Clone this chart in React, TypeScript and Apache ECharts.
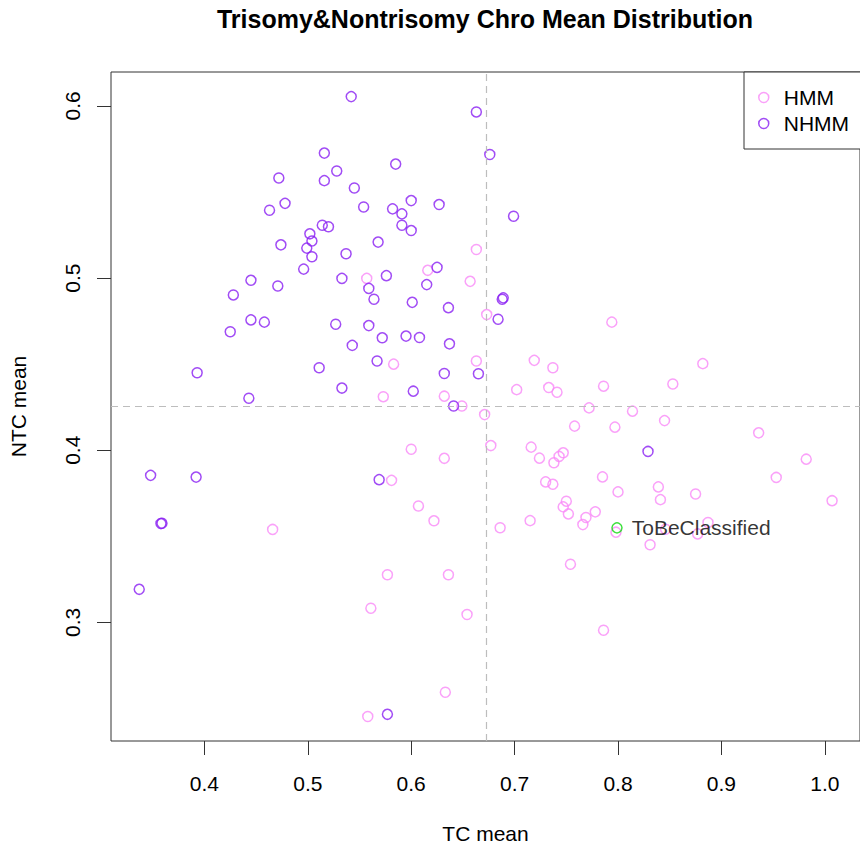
import React, { useEffect, useRef } from "react";
import * as echarts from "echarts";

// ---- data ----
const hmmTC = [
  0.557, 0.663, 0.616, 0.657, 0.583, 0.573, 0.581, 0.466, 0.673, 0.794,
  0.663, 0.719, 0.737, 0.632, 0.649, 0.702, 0.733, 0.741, 0.786, 0.853,
  0.772, 0.814, 0.671, 0.758, 0.797, 0.845, 0.600, 0.632, 0.677, 0.716,
  0.724, 0.738, 0.743, 0.747, 0.730, 0.737, 0.785, 0.800, 0.839, 0.841,
  0.607, 0.622, 0.750, 0.747, 0.752, 0.778, 0.769, 0.766, 0.686, 0.715,
  0.798, 0.831, 0.846, 0.754, 0.577, 0.636, 0.654, 0.786, 0.633, 0.561,
  0.558, 0.882, 0.936, 0.982, 0.953, 0.875, 1.007, 0.877, 0.887,
];
const hmmNTC = [
  0.4998, 0.5166, 0.5045, 0.4981, 0.45, 0.4311, 0.3825, 0.354, 0.4788, 0.4744,
  0.4518, 0.4522, 0.4479, 0.4314, 0.4257, 0.4352, 0.4364, 0.4337, 0.4372, 0.4385,
  0.4246, 0.4227, 0.4207, 0.414, 0.4134, 0.4172, 0.4006, 0.3953, 0.4027, 0.4018,
  0.3954, 0.3927, 0.3964, 0.3985, 0.3816, 0.3802, 0.3845, 0.3758, 0.3787, 0.3713,
  0.3676, 0.359, 0.3704, 0.3671, 0.363, 0.3642, 0.3609, 0.3568, 0.355, 0.3591,
  0.3524, 0.3451, 0.3541, 0.3338, 0.3277, 0.3277, 0.3046, 0.2954, 0.2594, 0.3082,
  0.2453, 0.4503, 0.4101, 0.3948, 0.3842, 0.3746, 0.3707, 0.3514, 0.358,
];
const nhmmTC = [
  0.542, 0.516, 0.528, 0.585, 0.472, 0.516, 0.545, 0.478, 0.463, 0.554,
  0.582, 0.591, 0.600, 0.627, 0.591, 0.600, 0.514, 0.520, 0.502, 0.504,
  0.474, 0.499, 0.504, 0.568, 0.537, 0.496, 0.445, 0.471, 0.428, 0.533,
  0.576, 0.559, 0.564, 0.663, 0.676, 0.699, 0.625, 0.615, 0.601, 0.636,
  0.688, 0.689, 0.445, 0.458, 0.425, 0.527, 0.559, 0.572, 0.543, 0.567,
  0.511, 0.393, 0.533, 0.443, 0.348, 0.392, 0.569, 0.358, 0.359, 0.684,
  0.595, 0.608, 0.637, 0.632, 0.665, 0.602, 0.641, 0.829, 0.337, 0.577,
];
const nhmmNTC = [
  0.6054, 0.5726, 0.5622, 0.5662, 0.5581, 0.5566, 0.5523, 0.5434, 0.5394, 0.5413,
  0.5402, 0.5373, 0.545, 0.5427, 0.5307, 0.5276, 0.5307, 0.5298, 0.5257, 0.5215,
  0.5193, 0.5174, 0.5124, 0.5209, 0.5141, 0.5052, 0.4987, 0.4954, 0.4902, 0.4998,
  0.5014, 0.494, 0.4877, 0.5965, 0.5718, 0.5359, 0.5062, 0.4962, 0.4859, 0.4828,
  0.4877, 0.4885, 0.4757, 0.4744, 0.4688, 0.4732, 0.4724, 0.4653, 0.4609, 0.4518,
  0.4479, 0.445, 0.4361, 0.4302, 0.3854, 0.3844, 0.3829, 0.3574, 0.3576, 0.4761,
  0.4663, 0.4655, 0.4618, 0.4446, 0.4444, 0.4343, 0.4257, 0.3993, 0.3192, 0.2466,
];
const newTC = [0.799];
const newNTC = [0.3549];
const newLabel = "ToBeClassified";
const tcMeanLine = 0.6723;
const ntcMeanLine = 0.4253;
const xTicks = [0.4, 0.5, 0.6, 0.7, 0.8, 0.9, 1.0];
const yTicks = [0.3, 0.4, 0.5, 0.6];

const PINK = "#f98af8";
const PURPLE = "#8a1ff2";
const GREEN = "#10d810";
const FONT = '"Liberation Sans", Arial, Helvetica, sans-serif';

const pairs = (xs: number[], ys: number[]) => xs.map((x, i) => [x, ys[i]]);

export default function App() {
  const ref = useRef<HTMLDivElement>(null);
  useEffect(() => {
    const chart = echarts.init(ref.current as HTMLDivElement, null, { renderer: "svg" });
    const circle = (c: string) => ({ color: "rgba(0,0,0,0)", borderColor: c, borderWidth: 1.5 });
    chart.setOption({
      animation: false,
      textStyle: { fontFamily: FONT },
      graphic: [
        {
          type: "text",
          x: 485,
          y: 19,
          style: {
            text: "Trisomy&Nontrisomy Chro Mean Distribution",
            font: `bold 25px ${FONT}`,
            fill: "#000",
            align: "center",
            verticalAlign: "middle",
          },
        },
      ],
      grid: {
        left: 109,
        top: 72,
        width: 752,
        height: 671,
        show: true,
        borderColor: "#333",
        borderWidth: 1,
        backgroundColor: "rgba(0,0,0,0)",
      },
      xAxis: {
        type: "value",
        min: 0.3097,
        max: 1.034,
        name: "TC mean",
        nameLocation: "middle",
        nameGap: 82,
        nameTextStyle: { fontSize: 21, color: "#000", fontFamily: FONT },
        axisLine: { show: false },
        axisTick: { show: true, inside: false, length: 14, customValues: xTicks, lineStyle: { color: "#333", width: 1 } },
        axisLabel: {
          customValues: xTicks,
          formatter: (v: number) => v.toFixed(1),
          fontSize: 21,
          color: "#000",
          margin: 32,
          fontFamily: FONT,
        },
        splitLine: { show: false },
      },
      yAxis: {
        type: "value",
        min: 0.2311,
        max: 0.6197,
        name: "NTC mean",
        nameLocation: "middle",
        nameGap: 82,
        nameRotate: 90,
        nameTextStyle: { fontSize: 21, color: "#000", fontFamily: FONT },
        axisLine: { show: false },
        axisTick: { show: true, inside: false, length: 14, customValues: yTicks, lineStyle: { color: "#333", width: 1 } },
        axisLabel: {
          customValues: yTicks,
          formatter: (v: number) => v.toFixed(1),
          fontSize: 21,
          color: "#000",
          margin: 28,
          rotate: 90,
          fontFamily: FONT,
        },
        splitLine: { show: false },
      },
      legend: {
        orient: "vertical",
        left: 744,
        top: 72,
        padding: [15, 20, 15, 14],
        itemWidth: 30,
        itemHeight: 10,
        itemGap: 5,
        selectedMode: false,
        backgroundColor: "#fff",
        borderColor: "#333",
        borderWidth: 1,
        textStyle: { fontSize: 21, lineHeight: 21, color: "#000", fontFamily: FONT },
        data: [
          { name: "HMM", icon: "circle", itemStyle: circle(PINK) },
          { name: "NHMM", icon: "circle", itemStyle: circle(PURPLE) },
        ],
      },
      series: [
        {
          name: "HMM",
          type: "scatter",
          symbol: "circle",
          symbolSize: 10,
          itemStyle: circle(PINK),
          data: pairs(hmmTC, hmmNTC),
          markLine: {
            silent: true,
            precision: 6,
            symbol: ["none", "none"],
            label: { show: false },
            lineStyle: { color: "#bdbdbd", type: [7, 5], width: 1.2 },
            data: [{ xAxis: tcMeanLine }, { yAxis: ntcMeanLine }],
          },
        },
        {
          name: "NHMM",
          type: "scatter",
          symbol: "circle",
          symbolSize: 10,
          itemStyle: circle(PURPLE),
          data: pairs(nhmmTC, nhmmNTC),
        },
        {
          name: newLabel,
          type: "scatter",
          symbol: "circle",
          symbolSize: 10,
          itemStyle: circle(GREEN),
          data: pairs(newTC, newNTC),
          label: {
            show: true,
            position: "right",
            distance: 9,
            formatter: newLabel,
            fontSize: 21,
            color: "#000",
            fontFamily: FONT,
          },
        },
      ],
    });
    return () => chart.dispose();
  }, []);
  return (
    <div
      ref={ref}
      style={{ position: "absolute", left: 0, top: 0, width: 860, height: 849, background: "#fff" }}
    />
  );
}
